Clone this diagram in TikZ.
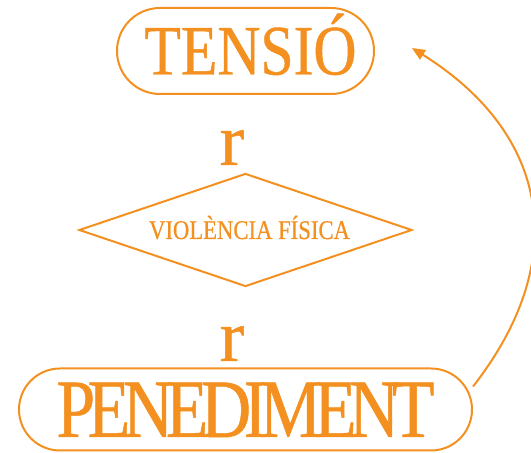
\documentclass[tikz,border=0pt]{standalone}
\usepackage{fontspec}
\setmainfont{Liberation Serif}[FakeStretch=0.84,FakeBold=0.6]
\newfontfamily\tightserif{Liberation Serif}[FakeStretch=0.84,FakeBold=0.6,LetterSpace=-9]
\newfontfamily\plainserif{Liberation Serif}[FakeBold=0.6]
\usetikzlibrary{shapes.misc,shapes.geometric,arrows.meta}
\definecolor{cycleorange}{HTML}{F39020}

\begin{document}
\begin{tikzpicture}[x=1pt, y=1pt,
    every node/.style={text=cycleorange},
    pill/.style={draw=cycleorange, line width=2pt, rounded rectangle, inner sep=0pt, text depth=0pt},
    link/.style={draw=cycleorange, line width=2pt, -{Triangle[length=13pt,width=11pt]}}]
    \useasboundingbox (0,0) rectangle (531,453);

    % Top and bottom stages of the cycle
    \node[pill, minimum width=257pt, minimum height=86pt, text height=47pt, font=\fontsize{71}{71}\selectfont] (tensio) at (245.5,402) {\hspace*{10pt}TENSIÓ};
    \node[pill, minimum width=453pt, minimum height=82pt, text height=55pt, font=\tightserif\fontsize{83}{83}\selectfont] (penediment) at (245.5,43.5) {PENEDIMENT};

    % Middle stage
    \node[diamond, draw=cycleorange, line width=2pt, inner sep=0pt, aspect=3, minimum width=333pt, minimum height=113pt,
          text height=18pt, text depth=0pt, font=\fontsize{27}{27}\selectfont] (violencia) at (245.5,223) {\hspace*{8pt}VIOLÈNCIA FÍSICA};

    % The little r marks
    \node[inner sep=0pt, anchor=base, font=\plainserif\fontsize{74}{74}\selectfont] (rtop) at (232,288) {r};
    \node[inner sep=0pt, anchor=base, font=\plainserif\fontsize{74}{74}\selectfont] (rbottom) at (232,92) {r};

    % Back to the start
    \coordinate (backtip) at (412,405);
    \draw[link] ([yshift=23pt]penediment.east) to[out=52, in=-32, looseness=1.2] (backtip);
\end{tikzpicture}
\end{document}
